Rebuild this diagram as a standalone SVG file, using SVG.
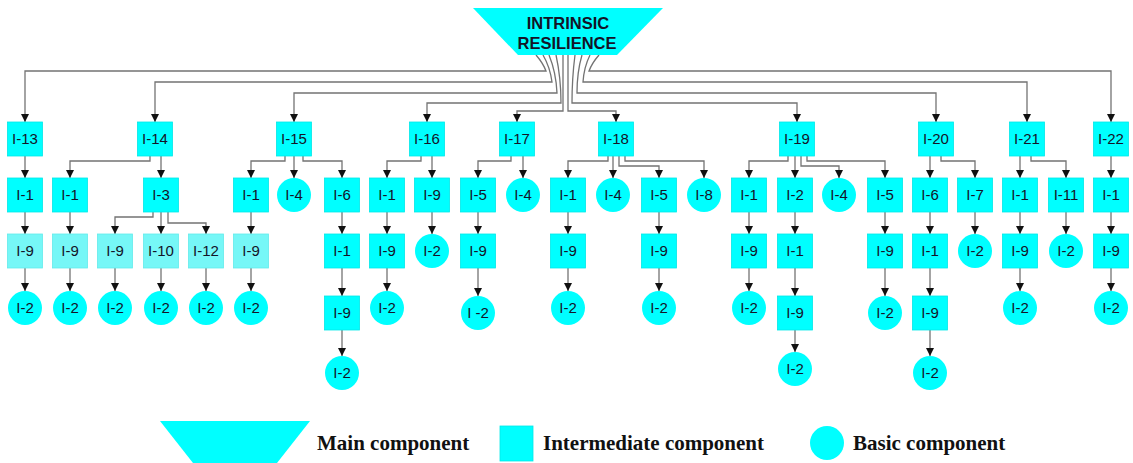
<svg xmlns="http://www.w3.org/2000/svg" width="1133" height="463" viewBox="0 0 1133 463">
<defs>
<style>
.sq{fill:#00FFFF;stroke:#00E8E8;stroke-width:0.8}
.lt{fill:#76F7F7;stroke:#62EAEA;stroke-width:0.8}
.ci{fill:#00FFFF}
.lbl{font-family:"Liberation Sans",Arial,sans-serif;font-size:15px;fill:#141428;text-anchor:middle}
.ttl{font-family:"Liberation Sans",Arial,sans-serif;font-size:16.5px;font-weight:bold;fill:#141428;text-anchor:middle}
.leg{font-family:"Liberation Serif","Times New Roman",serif;font-size:21px;font-weight:bold;fill:#111}
.conn path{fill:none;stroke:#737373;stroke-width:1.3;marker-end:url(#arr)}
</style>
<marker id="arr" markerUnits="userSpaceOnUse" markerWidth="9" markerHeight="9" refX="8" refY="4" orient="auto">
<path d="M0,0 L8,4 L0,8 z" fill="#111"/>
</marker>
</defs>
<rect width="1133" height="463" fill="#fff"/>

<g id="connectors" class="conn">
<!-- fan from root -->
<path d="M536 55 Q543 63 546 71 H25 V122"/>
<path d="M543 55 Q550 67 552 82 H155 V122"/>
<path d="M549 55 Q556 72 557 93 H294 V122"/>
<path d="M556 55 Q561 78 561 103 H427 V122"/>
<path d="M563 55 L563 111 H517 V122"/>
<path d="M568 55 L568 111 H616 V122"/>
<path d="M575 55 Q572 78 572 103 H797 V122"/>
<path d="M582 55 Q577 72 577 93 H936 V122"/>
<path d="M590 55 Q584 67 583 82 H1027 V122"/>
<path d="M599 55 Q592 63 589 71 H1111 V122"/>
<!-- row1 to row2 -->
<path d="M25 156 V178"/>
<path d="M150 156 V161 H70 V178"/>
<path d="M161 156 V178"/>
<path d="M285 156 V161 H251 V178"/>
<path d="M294 156 V178"/>
<path d="M303 156 V161 H342 V178"/>
<path d="M421 156 V161 H387 V178"/>
<path d="M432 156 V178"/>
<path d="M511 156 V161 H478 V178"/>
<path d="M523 156 V178"/>
<path d="M608 156 V161 H568 V178"/>
<path d="M613 156 V178"/>
<path d="M619 156 V166 H659 V178"/>
<path d="M625 156 V161 H704 V178"/>
<path d="M788 156 V161 H749 V178"/>
<path d="M795 156 V178"/>
<path d="M801 156 V166 H839 V178"/>
<path d="M807 156 V161 H885 V178"/>
<path d="M930 156 V178"/>
<path d="M941 156 V161 H975 V178"/>
<path d="M1020 156 V178"/>
<path d="M1031 156 V161 H1066 V178"/>
<path d="M1111 156 V178"/>
<!-- row2 to row3 -->
<path d="M25 212 V234"/>
<path d="M70 212 V234"/>
<path d="M153 212 V217 H115 V234"/>
<path d="M161 212 V234"/>
<path d="M168 212 V223 H206 V234"/>
<path d="M251 212 V234"/>
<path d="M342 212 V234"/>
<path d="M387 212 V234"/>
<path d="M432 212 V234"/>
<path d="M478 212 V234"/>
<path d="M568 212 V234"/>
<path d="M659 212 V234"/>
<path d="M749 212 V234"/>
<path d="M795 212 V234"/>
<path d="M885 212 V234"/>
<path d="M930 212 V234"/>
<path d="M975 212 V234"/>
<path d="M1020 212 V234"/>
<path d="M1066 212 V234"/>
<path d="M1111 212 V234"/>
<!-- row3 to row4 -->
<path d="M25 268 V291"/>
<path d="M70 268 V291"/>
<path d="M115 268 V291"/>
<path d="M161 268 V291"/>
<path d="M206 268 V291"/>
<path d="M251 268 V291"/>
<path d="M342 268 V296"/>
<path d="M387 268 V291"/>
<path d="M478 268 V296"/>
<path d="M568 268 V291"/>
<path d="M659 268 V291"/>
<path d="M749 268 V291"/>
<path d="M795 268 V296"/>
<path d="M885 268 V296"/>
<path d="M930 268 V296"/>
<path d="M1020 268 V291"/>
<path d="M1111 268 V291"/>
<!-- row4 to row5 -->
<path d="M342 330 V356"/>
<path d="M795 330 V352"/>
<path d="M930 330 V356"/>
</g>

<g id="root">
<polygon points="473,8 663,8 617,55 518,55" fill="#00FFFF"/>
<text class="ttl" x="568" y="29">INTRINSIC</text>
<text class="ttl" x="567" y="49">RESILIENCE</text>
</g>

<!-- Row 1 -->
<g id="n13"><rect class="sq" x="7.5" y="122" width="35" height="34"/><text class="lbl" x="25" y="144">I-13</text></g>
<g id="n14"><rect class="sq" x="137.5" y="122" width="35" height="34"/><text class="lbl" x="155" y="144">I-14</text></g>
<g id="n15"><rect class="sq" x="276.5" y="122" width="35" height="34"/><text class="lbl" x="294" y="144">I-15</text></g>
<g id="n16"><rect class="sq" x="409.5" y="122" width="35" height="34"/><text class="lbl" x="427" y="144">I-16</text></g>
<g id="n17"><rect class="sq" x="499.5" y="122" width="35" height="34"/><text class="lbl" x="517" y="144">I-17</text></g>
<g id="n18"><rect class="sq" x="598.5" y="122" width="35" height="34"/><text class="lbl" x="616" y="144">I-18</text></g>
<g id="n19"><rect class="sq" x="779.5" y="122" width="35" height="34"/><text class="lbl" x="797" y="144">I-19</text></g>
<g id="n20"><rect class="sq" x="918.5" y="122" width="35" height="34"/><text class="lbl" x="936" y="144">I-20</text></g>
<g id="n21"><rect class="sq" x="1009.5" y="122" width="35" height="34"/><text class="lbl" x="1027" y="144">I-21</text></g>
<g id="n22"><rect class="sq" x="1093.5" y="122" width="35" height="34"/><text class="lbl" x="1111" y="144">I-22</text></g>

<!-- I-13 chain -->
<g id="n13-1"><rect class="sq" x="7.5" y="178" width="35" height="34"/><text class="lbl" x="25" y="200">I-1</text></g>
<g id="n13-1-9"><rect class="lt" x="7.5" y="234" width="35" height="34"/><text class="lbl" x="25" y="256">I-9</text></g>
<g id="n13-1-9-2"><circle class="ci" cx="25" cy="308" r="17"/><text class="lbl" x="25" y="313">I-2</text></g>

<!-- I-14 chain -->
<g id="n14-1"><rect class="sq" x="52.5" y="178" width="35" height="34"/><text class="lbl" x="70" y="200">I-1</text></g>
<g id="n14-1-9"><rect class="lt" x="52.5" y="234" width="35" height="34"/><text class="lbl" x="70" y="256">I-9</text></g>
<g id="n14-1-9-2"><circle class="ci" cx="70" cy="308" r="17"/><text class="lbl" x="70" y="313">I-2</text></g>
<g id="n14-3"><rect class="sq" x="143.5" y="178" width="35" height="34"/><text class="lbl" x="161" y="200">I-3</text></g>
<g id="n14-3-9"><rect class="lt" x="97.5" y="234" width="35" height="34"/><text class="lbl" x="115" y="256">I-9</text></g>
<g id="n14-3-9-2"><circle class="ci" cx="115" cy="308" r="17"/><text class="lbl" x="115" y="313">I-2</text></g>
<g id="n14-3-10"><rect class="lt" x="143.5" y="234" width="35" height="34"/><text class="lbl" x="161" y="256">I-10</text></g>
<g id="n14-3-10-2"><circle class="ci" cx="161" cy="308" r="17"/><text class="lbl" x="161" y="313">I-2</text></g>
<g id="n14-3-12"><rect class="lt" x="188.5" y="234" width="35" height="34"/><text class="lbl" x="206" y="256">I-12</text></g>
<g id="n14-3-12-2"><circle class="ci" cx="206" cy="308" r="17"/><text class="lbl" x="206" y="313">I-2</text></g>

<!-- I-15 chain -->
<g id="n15-1"><rect class="sq" x="233.5" y="178" width="35" height="34"/><text class="lbl" x="251" y="200">I-1</text></g>
<g id="n15-1-9"><rect class="lt" x="233.5" y="234" width="35" height="34"/><text class="lbl" x="251" y="256">I-9</text></g>
<g id="n15-1-9-2"><circle class="ci" cx="251" cy="308" r="17"/><text class="lbl" x="251" y="313">I-2</text></g>
<g id="n15-4"><circle class="ci" cx="294" cy="195" r="17"/><text class="lbl" x="294" y="200">I-4</text></g>
<g id="n15-6"><rect class="sq" x="324.5" y="178" width="35" height="34"/><text class="lbl" x="342" y="200">I-6</text></g>
<g id="n15-6-1"><rect class="sq" x="324.5" y="234" width="35" height="34"/><text class="lbl" x="342" y="256">I-1</text></g>
<g id="n15-6-1-9"><rect class="sq" x="324.5" y="296" width="35" height="34"/><text class="lbl" x="342" y="318">I-9</text></g>
<g id="n15-6-1-9-2"><circle class="ci" cx="342" cy="373" r="17"/><text class="lbl" x="342" y="378">I-2</text></g>

<!-- I-16 chain -->
<g id="n16-1"><rect class="sq" x="369.5" y="178" width="35" height="34"/><text class="lbl" x="387" y="200">I-1</text></g>
<g id="n16-1-9"><rect class="sq" x="369.5" y="234" width="35" height="34"/><text class="lbl" x="387" y="256">I-9</text></g>
<g id="n16-1-9-2"><circle class="ci" cx="387" cy="308" r="17"/><text class="lbl" x="387" y="313">I-2</text></g>
<g id="n16-9"><rect class="sq" x="414.5" y="178" width="35" height="34"/><text class="lbl" x="432" y="200">I-9</text></g>
<g id="n16-9-2"><circle class="ci" cx="432" cy="251" r="17"/><text class="lbl" x="432" y="256">I-2</text></g>

<!-- I-17 chain -->
<g id="n17-5"><rect class="sq" x="460.5" y="178" width="35" height="34"/><text class="lbl" x="478" y="200">I-5</text></g>
<g id="n17-5-9"><rect class="sq" x="460.5" y="234" width="35" height="34"/><text class="lbl" x="478" y="256">I-9</text></g>
<g id="n17-5-9-2"><circle class="ci" cx="478" cy="313" r="17"/><text class="lbl" x="478" y="318">I -2</text></g>
<g id="n17-4"><circle class="ci" cx="523" cy="195" r="17"/><text class="lbl" x="523" y="200">I-4</text></g>

<!-- I-18 chain -->
<g id="n18-1"><rect class="sq" x="550.5" y="178" width="35" height="34"/><text class="lbl" x="568" y="200">I-1</text></g>
<g id="n18-1-9"><rect class="sq" x="550.5" y="234" width="35" height="34"/><text class="lbl" x="568" y="256">I-9</text></g>
<g id="n18-1-9-2"><circle class="ci" cx="568" cy="308" r="17"/><text class="lbl" x="568" y="313">I-2</text></g>
<g id="n18-4"><circle class="ci" cx="613" cy="195" r="17"/><text class="lbl" x="613" y="200">I-4</text></g>
<g id="n18-5"><rect class="sq" x="641.5" y="178" width="35" height="34"/><text class="lbl" x="659" y="200">I-5</text></g>
<g id="n18-5-9"><rect class="sq" x="641.5" y="234" width="35" height="34"/><text class="lbl" x="659" y="256">I-9</text></g>
<g id="n18-5-9-2"><circle class="ci" cx="659" cy="308" r="17"/><text class="lbl" x="659" y="313">I-2</text></g>
<g id="n18-8"><circle class="ci" cx="704" cy="195" r="17"/><text class="lbl" x="704" y="200">I-8</text></g>

<!-- I-19 chain -->
<g id="n19-1"><rect class="sq" x="731.5" y="178" width="35" height="34"/><text class="lbl" x="749" y="200">I-1</text></g>
<g id="n19-1-9"><rect class="sq" x="731.5" y="234" width="35" height="34"/><text class="lbl" x="749" y="256">I-9</text></g>
<g id="n19-1-9-2"><circle class="ci" cx="749" cy="308" r="17"/><text class="lbl" x="749" y="313">I-2</text></g>
<g id="n19-2"><rect class="sq" x="777.5" y="178" width="35" height="34"/><text class="lbl" x="795" y="200">I-2</text></g>
<g id="n19-2-1"><rect class="sq" x="777.5" y="234" width="35" height="34"/><text class="lbl" x="795" y="256">I-1</text></g>
<g id="n19-2-1-9"><rect class="sq" x="777.5" y="296" width="35" height="34"/><text class="lbl" x="795" y="318">I-9</text></g>
<g id="n19-2-1-9-2"><circle class="ci" cx="795" cy="369" r="17"/><text class="lbl" x="795" y="374">I-2</text></g>
<g id="n19-4"><circle class="ci" cx="839" cy="195" r="17"/><text class="lbl" x="839" y="200">I-4</text></g>
<g id="n19-5"><rect class="sq" x="867.5" y="178" width="35" height="34"/><text class="lbl" x="885" y="200">I-5</text></g>
<g id="n19-5-9"><rect class="sq" x="867.5" y="234" width="35" height="34"/><text class="lbl" x="885" y="256">I-9</text></g>
<g id="n19-5-9-2"><circle class="ci" cx="885" cy="313" r="17"/><text class="lbl" x="885" y="318">I-2</text></g>

<!-- I-20 chain -->
<g id="n20-6"><rect class="sq" x="912.5" y="178" width="35" height="34"/><text class="lbl" x="930" y="200">I-6</text></g>
<g id="n20-6-1"><rect class="sq" x="912.5" y="234" width="35" height="34"/><text class="lbl" x="930" y="256">I-1</text></g>
<g id="n20-6-1-9"><rect class="sq" x="912.5" y="296" width="35" height="34"/><text class="lbl" x="930" y="318">I-9</text></g>
<g id="n20-6-1-9-2"><circle class="ci" cx="930" cy="373" r="17"/><text class="lbl" x="930" y="378">I-2</text></g>
<g id="n20-7"><rect class="sq" x="957.5" y="178" width="35" height="34"/><text class="lbl" x="975" y="200">I-7</text></g>
<g id="n20-7-2"><circle class="ci" cx="975" cy="251" r="17"/><text class="lbl" x="975" y="256">I-2</text></g>

<!-- I-21 chain -->
<g id="n21-1"><rect class="sq" x="1002.5" y="178" width="35" height="34"/><text class="lbl" x="1020" y="200">I-1</text></g>
<g id="n21-1-9"><rect class="sq" x="1002.5" y="234" width="35" height="34"/><text class="lbl" x="1020" y="256">I-9</text></g>
<g id="n21-1-9-2"><circle class="ci" cx="1020" cy="308" r="17"/><text class="lbl" x="1020" y="313">I-2</text></g>
<g id="n21-11"><rect class="sq" x="1048.5" y="178" width="35" height="34"/><text class="lbl" x="1066" y="200">I-11</text></g>
<g id="n21-11-2"><circle class="ci" cx="1066" cy="251" r="17"/><text class="lbl" x="1066" y="256">I-2</text></g>

<!-- I-22 chain -->
<g id="n22-1"><rect class="sq" x="1093.5" y="178" width="35" height="34"/><text class="lbl" x="1111" y="200">I-1</text></g>
<g id="n22-1-9"><rect class="sq" x="1093.5" y="234" width="35" height="34"/><text class="lbl" x="1111" y="256">I-9</text></g>
<g id="n22-1-9-2"><circle class="ci" cx="1111" cy="308" r="17"/><text class="lbl" x="1111" y="313">I-2</text></g>

<!-- Legend -->
<g id="legend">
<polygon points="160,421 310,421 277,463 193,463" fill="#00FFFF"/>
<text class="leg" x="317" y="450">Main component</text>
<rect x="500" y="426" width="33" height="35" fill="#00FFFF" stroke="#00E8E8" stroke-width="0.8"/>
<text class="leg" x="543" y="450">Intermediate component</text>
<circle cx="827" cy="443" r="17" fill="#00FFFF"/>
<text class="leg" x="853" y="450">Basic component</text>
</g>
</svg>
